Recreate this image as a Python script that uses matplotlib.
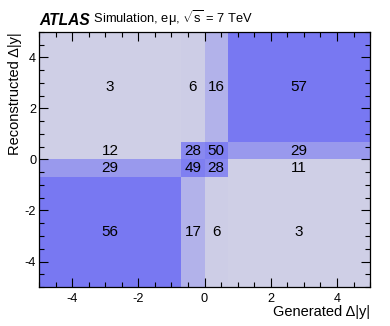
import numpy as np
import matplotlib
matplotlib.use('Agg')
import matplotlib.pyplot as plt
from matplotlib.colors import LinearSegmentedColormap
from matplotlib.ticker import MultipleLocator

plt.rcParams['font.family'] = ['Liberation Sans', 'DejaVu Sans']
plt.rcParams['mathtext.fontset'] = 'custom'
plt.rcParams['mathtext.rm'] = 'Liberation Sans'
plt.rcParams['mathtext.it'] = 'Liberation Sans:italic'
plt.rcParams['axes.unicode_minus'] = False

# bin edges (generated on x, reconstructed on y)
x_edges = [-5, -0.7, 0, 0.7, 5]
y_edges = [-5, -0.7, 0, 0.7, 5]

# column-normalised migration (%) rows: reco bins bottom -> top
percent = [
    [56, 17, 6, 3],
    [29, 49, 28, 11],
    [12, 28, 50, 29],
    [3, 6, 16, 57],
]
# colour weight of each cell
shade = [
    [1.00, 0.33, 0.03, 0.00],
    [0.62, 0.92, 0.80, 0.00],
    [0.00, 0.80, 0.92, 0.62],
    [0.00, 0.03, 0.33, 1.00],
]

cmap = LinearSegmentedColormap.from_list('atlas', ['#cfcfe6', '#7878f2'])

fig = plt.figure(figsize=(3.9, 3.26), dpi=100)
ax = fig.add_axes([0.1, 0.1196, 0.849, 0.7824])

ax.pcolormesh(x_edges, y_edges, np.array(shade), cmap=cmap, vmin=0, vmax=1)

xc = 0.5 * (np.array(x_edges[:-1]) + np.array(x_edges[1:]))
yc = 0.5 * (np.array(y_edges[:-1]) + np.array(y_edges[1:]))
for i, y in enumerate(yc):
    for j, x in enumerate(xc):
        ax.text(x, y, str(percent[i][j]), ha='center', va='center', fontsize=11)

ax.set_xlim(-5, 5)
ax.set_ylim(-5, 5)
ax.xaxis.set_major_locator(MultipleLocator(2))
ax.xaxis.set_minor_locator(MultipleLocator(0.5))
ax.yaxis.set_major_locator(MultipleLocator(2))
ax.yaxis.set_minor_locator(MultipleLocator(0.5))
ax.tick_params(which='both', direction='in', top=True, right=True, labelsize=9.2)
ax.tick_params(which='major', length=6.5, width=0.8)
ax.tick_params(which='minor', length=3.6, width=0.8)
ax.tick_params(axis='x', pad=4)
ax.tick_params(axis='y', pad=2)
for sp in ax.spines.values():
    sp.set_linewidth(0.9)

ax.set_xlabel('Generated Δ|y|', fontsize=10.5, loc='right', labelpad=0)
ax.set_ylabel('Reconstructed Δ|y|', fontsize=10.5, loc='top', labelpad=2)

t1 = fig.text(0.1, 1 - 25 / 326, 'ATLAS', fontsize=11.2, fontweight='bold',
              fontstyle='italic', va='baseline')
ax.annotate(r' Simulation, eμ, $\sqrt{\mathrm{s}}$ = 7 TeV', xy=(1, 0), xycoords=t1,
            fontsize=9.3, va='bottom', annotation_clip=False)

fig.savefig('out.png', dpi=100)
